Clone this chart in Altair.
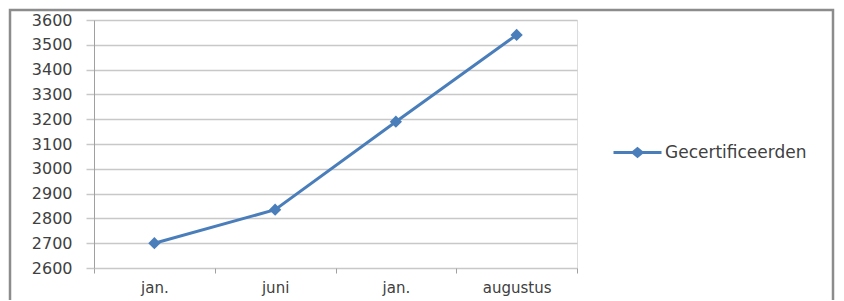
import altair as alt
import pandas as pd

labels = ["jan.", "juni", "jan.", "augustus"]
values = [2700, 2835, 3190, 3540]
series = "Gecertificeerden"

df = pd.DataFrame({
    "idx": list(range(len(labels))),
    "label": labels,
    "value": values,
    "series": [series] * len(labels),
})

label_expr = "[" + ",".join(f"'{l}'" for l in labels) + "][datum.value]"

W, H = 483, 248
blue = "#4a7ebb"
font = "DejaVu Sans"
txt = "#404040"

line = alt.Chart(df).mark_line(
    strokeWidth=3,
    point=alt.OverlayMarkDef(shape="diamond", size=150, filled=True, color=blue),
    color=blue,
).encode(
    x=alt.X("idx:O", title=None, scale=alt.Scale(paddingInner=0, paddingOuter=0),
            axis=alt.Axis(labelExpr=label_expr, labelAngle=0, tickBand="extent",
                          domain=False, tickSize=5, tickColor="#a0a0a0",
                          labelPadding=7, grid=False, labelFont=font,
                          labelFontSize=15, labelColor=txt)),
    y=alt.Y("value:Q", title=None,
            scale=alt.Scale(domain=[2600, 3600], nice=False, zero=False),
            axis=alt.Axis(values=list(range(2600, 3601, 100)), format="d", tickSize=8,
                          tickColor="#c8c8c8", domainColor="#a0a0a0",
                          gridColor="#c8c8c8", gridWidth=1.5, tickWidth=1.5,
                          labelPadding=14, labelFont=font, labelFontSize=16,
                          labelColor=txt)),
    color=alt.Color("series:N", title=None,
                    scale=alt.Scale(range=[blue]),
                    legend=alt.Legend(orient="none", legendX=527, legendY=116,
                                      padding=0,
                                      symbolType="M-1.6,0H1.6M-0.3,0L0,-0.25L0.3,0L0,0.25Z",
                                      symbolSize=900, symbolStrokeWidth=3,
                                      symbolFillColor=blue, symbolStrokeColor=blue,
                                      labelFont=font, labelFontSize=17,
                                      labelColor=txt, labelOffset=11)),
)

frame = alt.Chart(pd.DataFrame({"a": [0]})).mark_rect(
    fill=None, stroke="#8c8c8c", strokeWidth=2.5, clip=False
).encode(
    x=alt.value(-84), x2=alt.value(739), y=alt.value(-10), y2=alt.value(290)
)

chart = alt.layer(frame, line).properties(
    width=W, height=H,
    autosize=alt.AutoSizeParams(type="none"),
    padding={"left": 86, "top": 12, "right": 259, "bottom": 32},
).configure_view(stroke=None).configure(background="white")

chart.save("out.html", embed_options={"renderer": "svg", "actions": False})
